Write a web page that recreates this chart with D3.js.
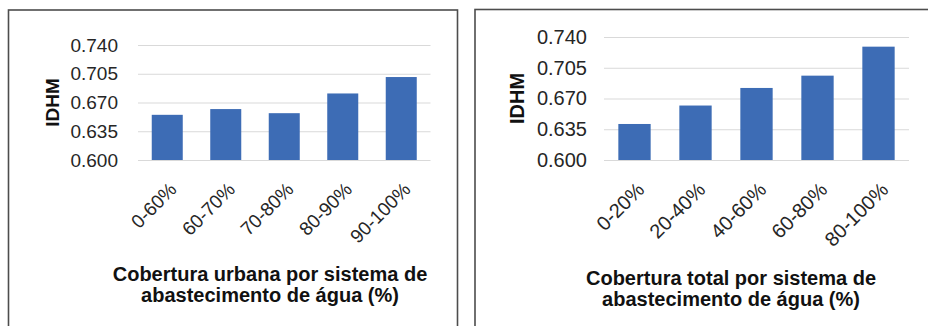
<!DOCTYPE html>
<html>
<head>
<meta charset="utf-8">
<script src="https://cdn.jsdelivr.net/npm/d3@7"></script>
<style>
  html, body { margin: 0; padding: 0; background: #fff; }
  svg { display: block; font-family: "Liberation Sans", Arial, sans-serif; }
</style>
</head>
<body>
<svg id="chart" width="928" height="326"></svg>
<script>
// IDHM by water-supply coverage class
const yTicks = [0.600, 0.635, 0.670, 0.705, 0.740];
const yDomain = [0.600, 0.740];

const urbanCategories = ["0-60%", "60-70%", "70-80%", "80-90%", "90-100%"];
const urbanValues = [0.655, 0.662, 0.657, 0.681, 0.701];
const urbanTitle = ["Cobertura urbana por sistema de", "abastecimento de água (%)"];

const totalCategories = ["0-20%", "20-40%", "40-60%", "60-80%", "80-100%"];
const totalValues = [0.641, 0.662, 0.682, 0.696, 0.729];
const totalTitle = ["Cobertura total por sistema de", "abastecimento de água (%)"];

const yLabel = "IDHM";

const BAR = "#3d6cb5";
const GRID = "#d9d9d9";
const TEXT = "#262626";
const fmt = d3.format(".3f");

const svg = d3.select("#chart");

function panel(opt) {
  const g = svg.append("g");

  // frame
  g.append("rect")
    .attr("x", opt.frame[0]).attr("y", opt.frame[1])
    .attr("width", opt.frame[2]).attr("height", opt.frame[3])
    .attr("fill", "#fff").attr("stroke", "#4d4d4d").attr("stroke-width", 1.6);

  const x = d3.scaleBand()
    .domain(opt.categories)
    .range([opt.left, opt.right])
    .paddingInner(0.47)
    .paddingOuter(0.235);

  const y = d3.scaleLinear().domain(yDomain).range([opt.bottom, opt.top]);

  // gridlines
  const yAxis = d3.axisLeft(y).tickValues(yTicks).tickFormat(fmt)
    .tickSize(-(opt.right - opt.left)).tickPadding(opt.labelGap);
  const ya = g.append("g").attr("transform", `translate(${opt.left},0)`).call(yAxis);
  ya.select(".domain").remove();
  ya.selectAll(".tick line").attr("stroke", GRID).attr("stroke-width", 1.2);
  ya.selectAll(".tick text")
    .attr("fill", TEXT).attr("font-size", opt.fs).style("font-family", "Liberation Sans, Arial, sans-serif");

  // bars
  g.selectAll("rect.bar")
    .data(opt.values)
    .join("rect")
    .attr("class", "bar")
    .attr("x", (d, i) => x(opt.categories[i]))
    .attr("width", x.bandwidth())
    .attr("y", d => y(d))
    .attr("height", d => y(yDomain[0]) - y(d))
    .attr("fill", BAR);

  // category labels, rotated
  const xAxis = d3.axisBottom(x).tickSize(0).tickPadding(0);
  const xa = g.append("g").attr("transform", `translate(0,${opt.bottom})`).call(xAxis);
  xa.select(".domain").remove();
  xa.selectAll(".tick text")
    .attr("fill", TEXT).attr("font-size", opt.fs)
    .style("font-family", "Liberation Sans, Arial, sans-serif")
    .attr("text-anchor", "end")
    .attr("y", 0).attr("dy", "0.71em")
    .attr("transform", "translate(1,21) rotate(-45)");

  // y title
  g.append("text")
    .attr("transform", `translate(${opt.yTitleX},${(opt.top + opt.bottom) / 2}) rotate(-90)`)
    .attr("text-anchor", "middle")
    .attr("dy", "0.35em")
    .attr("font-weight", "bold").attr("font-size", opt.fs)
    .attr("fill", "#111")
    .text(yLabel);

  // x title
  g.append("text")
    .attr("text-anchor", "middle")
    .attr("font-weight", "bold").attr("font-size", opt.titleFs)
    .attr("fill", "#111")
    .selectAll("tspan")
    .data(opt.title)
    .join("tspan")
    .attr("x", opt.titleX)
    .attr("y", (d, i) => opt.titleY + i * opt.titleLead)
    .text(d => d);
}

panel({
  frame: [8.5, 10, 449, 330],
  categories: urbanCategories, values: urbanValues, title: urbanTitle,
  left: 138, right: 430.5, top: 45, bottom: 160,
  fs: 19, labelGap: 20, yTitleX: 52,
  titleFs: 20, titleX: 270, titleY: 281, titleLead: 21
});

panel({
  frame: [475, 9.5, 470, 330],
  categories: totalCategories, values: totalValues, title: totalTitle,
  left: 604, right: 909, top: 37, bottom: 160,
  fs: 20, labelGap: 17, yTitleX: 517,
  titleFs: 20, titleX: 731, titleY: 285, titleLead: 21
});
</script>
</body>
</html>
